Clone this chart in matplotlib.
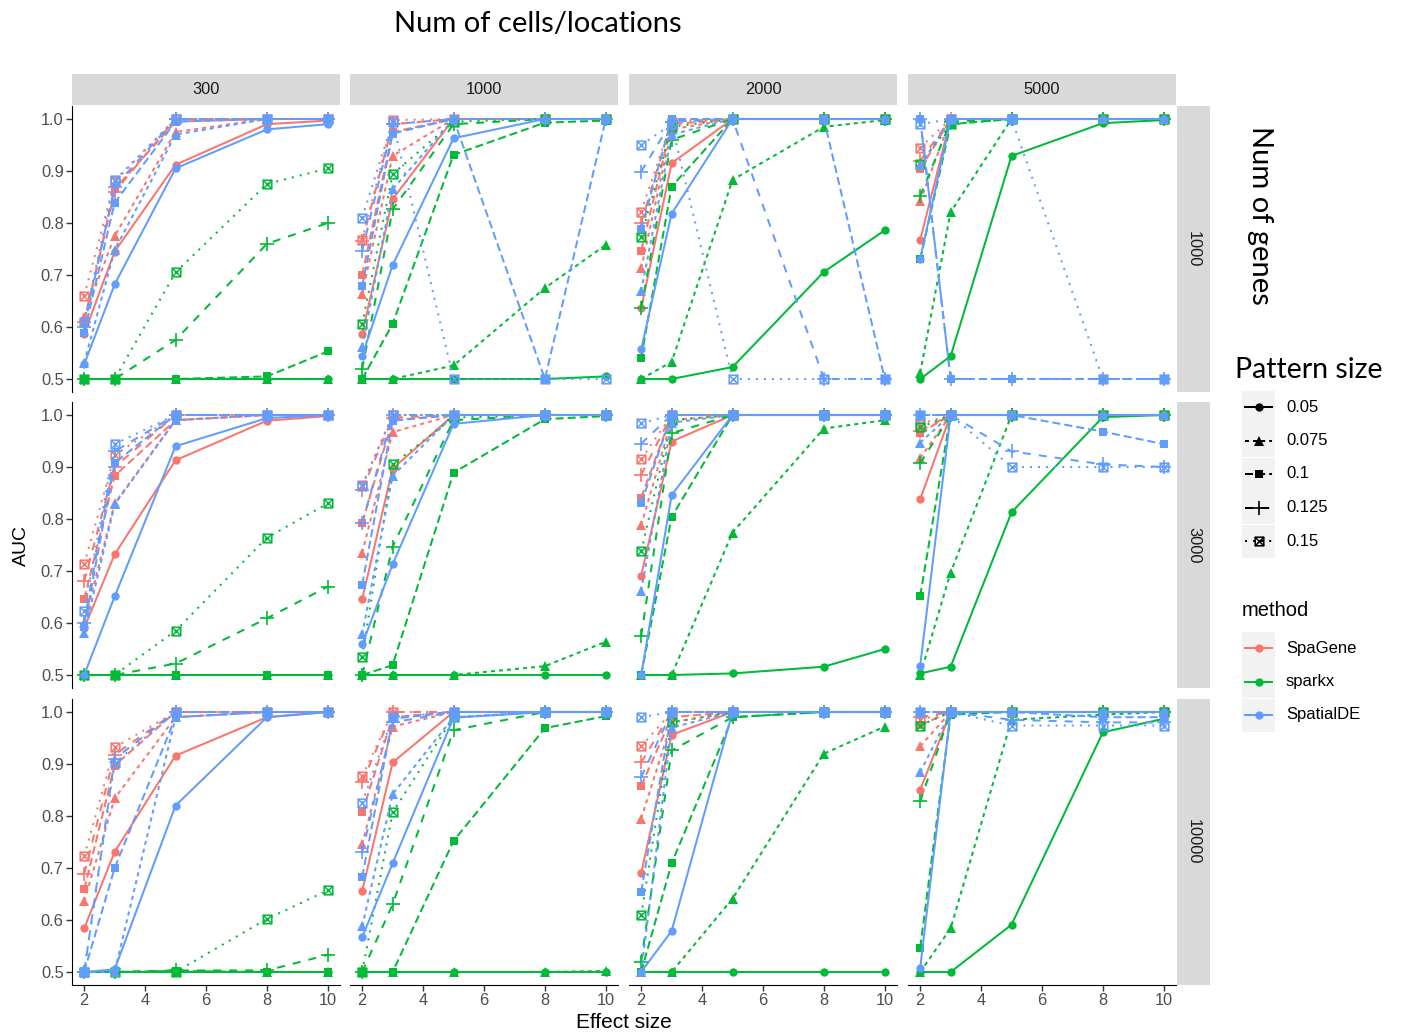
import numpy as np
import matplotlib.pyplot as plt
from matplotlib.path import Path
from matplotlib.patches import Rectangle

# AUC by effect size; layout is [genes row][cells column][pattern size] -> 5 values
effect = [2, 3, 5, 8, 10]
cells = ["300", "1000", "2000", "5000"]
genes = ["1000", "3000", "10000"]
pattern = ["0.05", "0.075", "0.1", "0.125", "0.15"]
methods = ["SpaGene", "sparkx", "SpatialDE"]

spagene = [
    [  # 1000 genes
        [[0.587, 0.745, 0.912, 0.99, 0.997], [0.62, 0.775, 0.975, 1, 1], [0.61, 0.865, 0.995, 1, 1],
         [0.61, 0.86, 1, 1, 1], [0.66, 0.88, 1, 1, 1]],
        [[0.587, 0.846, 1, 1, 1], [0.664, 0.929, 1, 1, 1], [0.70, 0.975, 1, 1, 1],
         [0.765, 0.99, 1, 1, 1], [0.767, 0.998, 1, 1, 1]],
        [[0.636, 0.915, 1, 1, 1], [0.713, 0.98, 1, 1, 1], [0.747, 0.99, 1, 1, 1],
         [0.80, 0.995, 1, 1, 1], [0.822, 0.995, 1, 1, 1]],
        [[0.767, 1, 1, 1, 1], [0.842, 1, 1, 1, 1], [0.903, 1, 1, 1, 1],
         [0.92, 1, 1, 1, 1], [0.945, 1, 1, 1, 1]],
    ],
    [  # 3000 genes
        [[0.59, 0.732, 0.913, 0.989, 0.998], [0.60, 0.83, 0.99, 1, 1], [0.646, 0.883, 0.99, 1, 1],
         [0.68, 0.90, 1, 1, 1], [0.713, 0.923, 1, 1, 1]],
        [[0.646, 0.897, 1, 1, 1], [0.735, 0.967, 1, 1, 1], [0.793, 0.99, 1, 1, 1],
         [0.856, 0.995, 1, 1, 1], [0.865, 1, 1, 1, 1]],
        [[0.691, 0.949, 1, 1, 1], [0.788, 0.99, 1, 1, 1], [0.841, 1, 1, 1, 1],
         [0.885, 1, 1, 1, 1], [0.915, 1, 1, 1, 1]],
        [[0.838, 1, 1, 1, 1], [0.917, 1, 1, 1, 1], [0.965, 1, 1, 1, 1],
         [0.97, 1, 1, 1, 1], [0.983, 1, 1, 1, 1]],
    ],
    [  # 10000 genes
        [[0.584, 0.731, 0.916, 0.99, 1], [0.636, 0.834, 0.99, 1, 1], [0.659, 0.897, 1, 1, 1],
         [0.689, 0.918, 1, 1, 1], [0.723, 0.932, 1, 1, 1]],
        [[0.656, 0.903, 1, 1, 1], [0.746, 0.972, 1, 1, 1], [0.807, 0.99, 1, 1, 1],
         [0.865, 1, 1, 1, 1], [0.876, 1, 1, 1, 1]],
        [[0.69, 0.956, 1, 1, 1], [0.795, 0.98, 1, 1, 1], [0.858, 0.99, 1, 1, 1],
         [0.903, 1, 1, 1, 1], [0.934, 1, 1, 1, 1]],
        [[0.85, 1, 1, 1, 1], [0.934, 1, 1, 1, 1], [0.975, 1, 1, 1, 1],
         [0.99, 1, 1, 1, 1], [0.985, 1, 1, 1, 1]],
    ],
]

sparkx = [
    [
        [[0.5, 0.5, 0.5, 0.5, 0.5], [0.5, 0.5, 0.5, 0.5, 0.5], [0.5, 0.5, 0.5, 0.505, 0.553],
         [0.5, 0.5, 0.575, 0.76, 0.80], [0.5, 0.5, 0.705, 0.875, 0.905]],
        [[0.5, 0.5, 0.5, 0.5, 0.505], [0.5, 0.5, 0.526, 0.675, 0.758], [0.5, 0.606, 0.931, 0.993, 0.997],
         [0.519, 0.826, 0.99, 1, 1], [0.605, 0.894, 0.995, 1, 1]],
        [[0.5, 0.5, 0.523, 0.706, 0.786], [0.5, 0.533, 0.883, 0.985, 0.998], [0.541, 0.87, 1, 1, 1],
         [0.636, 0.96, 1, 1, 1], [0.774, 0.985, 1, 1, 1]],
        [[0.5, 0.544, 0.929, 0.992, 0.998], [0.512, 0.821, 1, 1, 1], [0.73, 0.99, 1, 1, 1],
         [0.852, 0.995, 1, 1, 1], [0.913, 0.99, 1, 1, 1]],
    ],
    [
        [[0.5, 0.5, 0.5, 0.5, 0.5], [0.5, 0.5, 0.5, 0.5, 0.5], [0.5, 0.5, 0.5, 0.5, 0.5],
         [0.5, 0.5, 0.522, 0.609, 0.67], [0.5, 0.5, 0.585, 0.764, 0.83]],
        [[0.5, 0.5, 0.5, 0.5, 0.5], [0.5, 0.5, 0.5, 0.517, 0.564], [0.5, 0.519, 0.889, 0.992, 0.998],
         [0.5, 0.747, 0.99, 1, 1], [0.534, 0.905, 0.995, 1, 1]],
        [[0.5, 0.5, 0.503, 0.516, 0.55], [0.5, 0.5, 0.774, 0.974, 0.99], [0.5, 0.804, 1, 1, 1],
         [0.575, 0.965, 1, 1, 1], [0.738, 0.99, 1, 1, 1]],
        [[0.503, 0.516, 0.813, 0.996, 1], [0.5, 0.697, 1, 1, 1], [0.652, 1, 1, 1, 1],
         [0.907, 1, 1, 1, 1], [0.976, 1, 1, 1, 1]],
    ],
    [
        [[0.5, 0.5, 0.5, 0.5, 0.5], [0.5, 0.5, 0.5, 0.5, 0.5], [0.5, 0.5, 0.502, 0.5, 0.5],
         [0.5, 0.5, 0.503, 0.503, 0.533], [0.5, 0.5, 0.5, 0.602, 0.657]],
        [[0.5, 0.5, 0.5, 0.5, 0.5], [0.5, 0.5, 0.5, 0.5, 0.502], [0.5, 0.5, 0.752, 0.969, 0.992],
         [0.5, 0.63, 0.965, 1, 1], [0.5, 0.807, 0.99, 1, 1]],
        [[0.5, 0.5, 0.5, 0.5, 0.5], [0.5, 0.5, 0.641, 0.92, 0.972], [0.5, 0.709, 0.99, 1, 1],
         [0.52, 0.926, 0.99, 1, 1], [0.609, 0.98, 1, 1, 1]],
        [[0.5, 0.5, 0.591, 0.961, 0.987], [0.5, 0.584, 0.985, 0.995, 1], [0.547, 0.995, 1, 1, 1],
         [0.828, 1, 1, 1, 1], [0.974, 1, 1, 1, 1]],
    ],
]

spatialde = [
    [
        [[0.528, 0.682, 0.905, 0.98, 0.99], [0.531, 0.748, 0.97, 1, 1], [0.589, 0.839, 0.995, 1, 1],
         [0.60, 0.87, 1, 1, 1], [0.61, 0.882, 1, 1, 1]],
        [[0.545, 0.719, 0.963, 1, 1], [0.562, 0.865, 1, 1, 1], [0.678, 0.972, 1, 0.5, 1],
         [0.746, 0.99, 1, 1, 1], [0.81, 0.995, 0.5, 0.5, 0.5]],
        [[0.557, 0.818, 1, 1, 1], [0.669, 0.97, 1, 1, 1], [0.788, 1, 1, 1, 0.5],
         [0.899, 0.995, 1, 0.5, 0.5], [0.95, 0.99, 0.5, 0.5, 0.5]],
        [[0.731, 1, 1, 1, 1], [0.911, 1, 1, 1, 1], [1, 0.5, 0.5, 0.5, 0.5],
         [1, 0.5, 0.5, 0.5, 0.5], [0.99, 1, 1, 0.5, 0.5]],
    ],
    [
        [[0.5, 0.651, 0.94, 0.994, 1], [0.58, 0.828, 0.99, 1, 1], [0.593, 0.908, 1, 1, 1],
         [0.60, 0.93, 1, 1, 1], [0.623, 0.944, 1, 1, 1]],
        [[0.559, 0.713, 0.983, 1, 1], [0.578, 0.883, 1, 1, 1], [0.674, 0.989, 1, 1, 1],
         [0.792, 1, 1, 1, 1], [0.863, 1, 1, 1, 1]],
        [[0.5, 0.846, 1, 1, 1], [0.662, 0.985, 1, 1, 1], [0.83, 1, 1, 1, 1],
         [0.945, 1, 1, 1, 1], [0.984, 1, 1, 1, 1]],
        [[0.518, 1, 1, 1, 1], [0.947, 1, 1, 1, 1], [1, 1, 1, 0.968, 0.944],
         [1, 1, 0.93, 0.905, 0.90], [1, 1, 0.90, 0.90, 0.90]],
    ],
    [
        [[0.5, 0.505, 0.82, 0.99, 1], [0.5, 0.5, 0.99, 1, 1], [0.5, 0.70, 0.99, 1, 1],
         [0.5, 0.91, 1, 1, 1], [0.5, 0.902, 1, 1, 1]],
        [[0.567, 0.709, 0.989, 1, 1], [0.588, 0.842, 0.99, 1, 1], [0.683, 0.987, 1, 1, 1],
         [0.73, 0.98, 1, 1, 1], [0.825, 0.99, 1, 1, 1]],
        [[0.5, 0.579, 1, 1, 1], [0.5, 0.97, 1, 1, 1], [0.654, 1, 1, 1, 1],
         [0.875, 1, 1, 1, 1], [0.99, 1, 1, 1, 1]],
        [[0.508, 1, 1, 1, 1], [0.884, 1, 1, 1, 1], [1, 1, 1, 0.99, 0.99],
         [1, 1, 0.985, 0.98, 0.98], [1, 1, 0.974, 0.974, 0.974]],
    ],
]

auc = {"SpaGene": spagene, "sparkx": sparkx, "SpatialDE": spatialde}
colors = {"SpaGene": "#F8766D", "sparkx": "#00BA38", "SpatialDE": "#619CFF"}

# ggplot-like shapes and linetypes for the pattern sizes
boxx = Path([(-1, -1), (1, -1), (1, 1), (-1, 1), (-1, -1), (-1, -1), (1, 1), (-1, 1), (1, -1)],
            [Path.MOVETO, Path.LINETO, Path.LINETO, Path.LINETO, Path.CLOSEPOLY,
             Path.MOVETO, Path.LINETO, Path.MOVETO, Path.LINETO])
shapes = ["o", "^", "s", "+", boxx]
msizes = [6.0, 6.6, 5.8, 9.5, 6.2]
ltypes = ["-", (0, (2, 2)), (0, (4, 2)), (0, (4, 4)), (0, (1, 3))]
LW = 1.45


def style(j):
    kw = dict(marker=shapes[j], markersize=msizes[j], linestyle=ltypes[j])
    if j == 3:
        kw["markeredgewidth"] = 1.2
    elif j == 4:
        kw["markerfacecolor"] = "none"
        kw["markeredgewidth"] = 1.1
    else:
        kw["markeredgewidth"] = 0
    return kw


W, H = 1401, 1036
fig = plt.figure(figsize=(W / 100, H / 100), dpi=100)
sans = "Liberation Sans"

cols_px = [(72, 340), (350, 618), (629, 897), (908, 1176)]
rows_px = [(106, 392), (402, 688), (699, 985)]


def fbox(x0, x1, y0, y1):
    return [x0 / W, 1 - y1 / H, (x1 - x0) / W, (y1 - y0) / H]


for r in range(3):
    for c in range(4):
        ax = fig.add_axes(fbox(*cols_px[c], *rows_px[r]))
        for m in methods:
            for j in range(5):
                ax.plot(effect, auc[m][r][c][j], color=colors[m], lw=LW,
                        markeredgecolor=colors[m], **style(j))
        ax.set_xlim(1.6, 10.4)
        ax.set_ylim(0.475, 1.025)
        ax.set_xticks([2, 4, 6, 8, 10])
        ax.set_yticks([0.5, 0.6, 0.7, 0.8, 0.9, 1.0])
        for s in ["top", "right"]:
            ax.spines[s].set_visible(False)
        ax.spines["left"].set_visible(c == 0)
        ax.spines["bottom"].set_visible(r == 2)
        ax.tick_params(colors="#333333", labelcolor="#4D4D4D", labelsize=11.8,
                       length=4, width=1, pad=2,
                       left=(c == 0), labelleft=(c == 0),
                       bottom=(r == 2), labelbottom=(r == 2))
        if c == 0:
            ax.set_yticklabels(["0.5", "0.6", "0.7", "0.8", "0.9", "1.0"], family=sans)
        if r == 2:
            ax.set_xticklabels(["2", "4", "6", "8", "10"], family=sans)

# facet strips
for c in range(4):
    sx = fig.add_axes(fbox(cols_px[c][0], cols_px[c][1], 74, 105))
    sx.set_facecolor("#D9D9D9")
    sx.set_xticks([])
    sx.set_yticks([])
    for s in sx.spines.values():
        s.set_visible(False)
    sx.text(0.5, 0.5, cells[c], ha="center", va="center", fontsize=11.8,
            color="#1A1A1A", family=sans, transform=sx.transAxes)
for r in range(3):
    sx = fig.add_axes(fbox(1177, 1210, *rows_px[r]))
    sx.set_facecolor("#D9D9D9")
    sx.set_xticks([])
    sx.set_yticks([])
    for s in sx.spines.values():
        s.set_visible(False)
    sx.text(0.5, 0.5, genes[r], ha="center", va="center", fontsize=11.8, rotation=-90,
            color="#1A1A1A", family=sans, transform=sx.transAxes)

fig.text(538 / W, 1 - 24 / H, "Num of cells/locations", ha="center", va="center",
         fontsize=21, family="Lato")
fig.text(1260 / W, 1 - 215 / H, "Num of genes", ha="center", va="center",
         fontsize=21, rotation=-90, family="Lato")
fig.text(21 / W, 1 - 545 / H, "AUC", ha="center", va="center", fontsize=14,
         rotation=90, family=sans)
fig.text(624 / W, 1 - 1022 / H, "Effect size", ha="center", va="center",
         fontsize=15, family=sans)

# legends drawn on a pixel-space overlay
lg = fig.add_axes([0, 0, 1, 1])
lg.set_xlim(0, W)
lg.set_ylim(H, 0)
lg.axis("off")
lg.patch.set_alpha(0)

lg.text(1235, 370, "Pattern size", ha="left", va="center", fontsize=20.5, family="Lato")
for j in range(5):
    yc = 407 + 33.5 * j
    lg.add_patch(Rectangle((1242, yc - 16.5), 33, 33, facecolor="#F2F2F2", edgecolor="none"))
    lg.plot([1245, 1272], [yc, yc], color="black", lw=LW, linestyle=ltypes[j])
    lg.plot([1258.5], [yc], color="black", linestyle="none", marker=shapes[j],
            markersize=msizes[j], markeredgecolor="black",
            markerfacecolor="none" if j == 4 else "black",
            markeredgewidth=style(j)["markeredgewidth"])
    lg.text(1286, yc, pattern[j], ha="left", va="center", fontsize=12, family=sans)

lg.text(1242, 611, "method", ha="left", va="center", fontsize=14.5, family=sans)
for i, m in enumerate(methods):
    yc = 648 + 33.5 * i
    lg.add_patch(Rectangle((1242, yc - 16.5), 33, 33, facecolor="#F2F2F2", edgecolor="none"))
    lg.plot([1245, 1272], [yc, yc], color=colors[m], lw=LW)
    lg.plot([1258.5], [yc], color=colors[m], marker="o", markersize=6.0, markeredgewidth=0)
    lg.text(1286, yc, m, ha="left", va="center", fontsize=12, family=sans)

fig.savefig("out.png", dpi=100)
